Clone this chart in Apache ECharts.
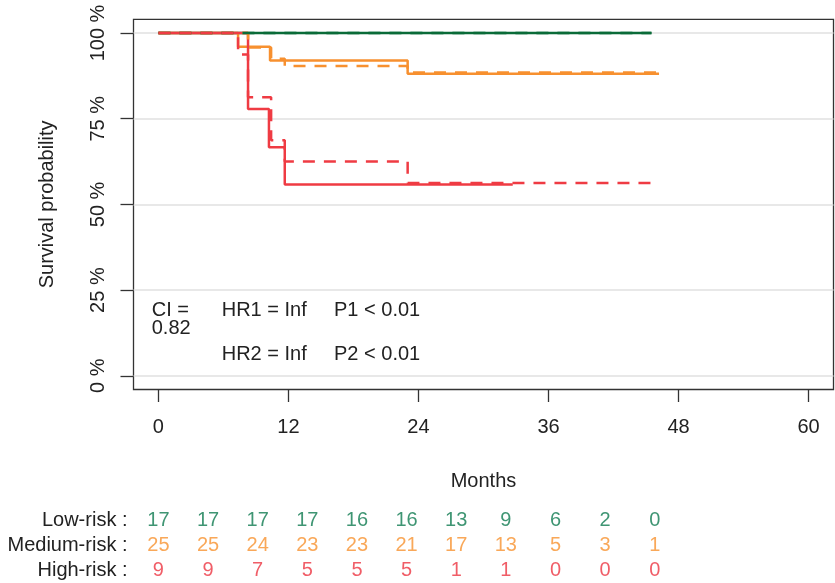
<!DOCTYPE html>
<html><head><meta charset="utf-8">
<script src="https://cdn.jsdelivr.net/npm/echarts@6/dist/echarts.min.js"></script>
<style>html,body{margin:0;padding:0;background:#fff}#c{width:835px;height:583px}</style>
</head><body><div id="c"></div>
<script>
// ---- data ----
const xTicks = [0, 12, 24, 36, 48, 60];
const yTicks = [0, 25, 50, 75, 100];

const lowT = [0, 45.5];
const lowS = [100, 100];
const medT = [0, 7.35, 10.3, 23.0, 46.2];
const medS = [100, 96, 92, 88.1, 88.1];
const highT = [0, 8.27, 10.2, 11.66, 32.7];
const highS = [100, 77.8, 66.7, 55.8, 55.8];

const lowDashT = [0, 45.5];
const lowDashS = [100, 100];
const medDashT = [0, 8.27, 10.4, 11.66, 23.0, 46.2];
const medDashS = [100, 95.8, 92.5, 90.4, 88.5, 88.5];
const highDashT = [0, 7.35, 8.27, 10.4, 11.66, 23.0, 45.8];
const highDashS = [100, 93.75, 81.25, 68.75, 62.5, 56.25, 56.25];

const riskTimes = [0, 4.58, 9.16, 13.74, 18.32, 22.9, 27.48, 32.06, 36.64, 41.22, 45.8];
const riskGroups = ['Low-risk :', 'Medium-risk :', 'High-risk :'];
const riskLow = [17, 17, 17, 17, 16, 16, 13, 9, 6, 2, 0];
const riskMed = [25, 25, 24, 23, 23, 21, 17, 13, 5, 3, 1];
const riskHigh = [9, 9, 7, 5, 5, 5, 1, 1, 0, 0, 0];

const statsLines = ['CI =', '0.82', 'HR1 = Inf', 'P1 < 0.01', 'HR2 = Inf', 'P2 < 0.01'];

// ---- styles ----
const FONT = 'Liberation Sans, Arial, Helvetica, sans-serif';
const C_GREEN = '#0a6b38', C_ORANGE = '#f7902f', C_RED = '#ef3b43';
const T_GREEN = '#0f7a50', T_ORANGE = '#f7922f', T_RED = '#ec3441';
const TXT = '#222';

function pairs(t, s) { return t.map((v, i) => [v, s[i]]); }
function curve(name, t, s, color, dashed) {
  return {
    name, type: 'line', step: 'end', xAxisIndex: 0, yAxisIndex: 0,
    data: pairs(t, s), symbol: 'none', showSymbol: false, silent: true,
    lineStyle: { color, width: 2.5, type: dashed ? [12, 9] : 'solid' }
  };
}
function riskRow(group, vals, color) {
  return {
    type: 'scatter', xAxisIndex: 1, yAxisIndex: 1, silent: true,
    symbolSize: 0.01, itemStyle: { color: 'rgba(0,0,0,0)' },
    data: riskTimes.map((t, i) => [t, group, vals[i]]),
    label: { show: true, position: 'inside', formatter: p => String(p.value[2]),
      fontSize: 20, color, fontFamily: FONT }
  };
}

const chart = echarts.init(document.getElementById('c'), null, { renderer: 'canvas' });
const statPos = [[151.7, 310.7], [151.7, 328.7], [221.7, 310.7], [334, 310.7], [221.7, 354.7], [334, 354.7]];
chart.setOption({
  animation: false,
  backgroundColor: '#fff',
  textStyle: { fontFamily: FONT },
  grid: [
    { left: 133.5, right: 1.5, top: 19.3, bottom: 193.5, show: true, borderColor: '#333', borderWidth: 1.3, backgroundColor: 'transparent' },
    { left: 133.5, right: 1.5, top: 508.5, height: 79, show: false }
  ],
  xAxis: [
    { type: 'value', gridIndex: 0, min: -2.3, max: 62.3,
      axisLine: { show: false, onZero: false },
      axisTick: { show: true, customValues: xTicks, length: 12.5, lineStyle: { color: '#333', width: 1.3 } },
      axisLabel: { show: true, customValues: xTicks, fontSize: 20, color: TXT, margin: 27.5, fontFamily: FONT },
      splitLine: { show: false },
      name: 'Months', nameLocation: 'middle', nameGap: 82,
      nameTextStyle: { fontSize: 20, color: TXT, fontFamily: FONT } },
    { type: 'value', gridIndex: 1, min: -2.3, max: 62.3, show: false }
  ],
  yAxis: [
    { type: 'value', gridIndex: 0, min: -4, max: 104,
      axisLine: { show: false, onZero: false },
      axisTick: { show: true, customValues: yTicks, length: 13, lineStyle: { color: '#333', width: 1.3 } },
      axisLabel: { show: true, customValues: yTicks, rotate: 90, fontSize: 20, color: TXT, margin: 25,
        fontFamily: FONT, formatter: v => v + ' %' },
      splitLine: { show: true, lineStyle: { color: '#e0e0e0', width: 1.5 } },
      name: 'Survival probability', nameLocation: 'middle', nameGap: 76, nameRotate: 90,
      nameTextStyle: { fontSize: 20, color: TXT, fontFamily: FONT } },
    { type: 'category', gridIndex: 1, data: riskGroups, inverse: true,
      axisLine: { show: false }, axisTick: { show: false }, splitLine: { show: false },
      axisLabel: { interval: 0, fontSize: 20, color: TXT, margin: 6, fontFamily: FONT } }
  ],
  series: [
    curve('Low-risk', lowT, lowS, C_GREEN, false),
    curve('Medium-risk', medT, medS, C_ORANGE, false),
    curve('High-risk', highT, highS, C_RED, false),
    curve('Medium-risk (dashed)', medDashT, medDashS, C_ORANGE, true),
    curve('Low-risk (dashed)', lowDashT, lowDashS, C_GREEN, true),
    curve('High-risk (dashed)', highDashT, highDashS, C_RED, true),
    riskRow(riskGroups[0], riskLow, T_GREEN),
    riskRow(riskGroups[1], riskMed, T_ORANGE),
    riskRow(riskGroups[2], riskHigh, T_RED)
  ],
  graphic: statsLines.map((s, i) => ({
    type: 'text', x: statPos[i][0], y: statPos[i][1], silent: true,
    style: { text: s, font: '20px ' + FONT, fill: TXT, textAlign: 'left', align: 'left',
      textVerticalAlign: 'middle', verticalAlign: 'middle' }
  }))
});
</script>
</body></html>
